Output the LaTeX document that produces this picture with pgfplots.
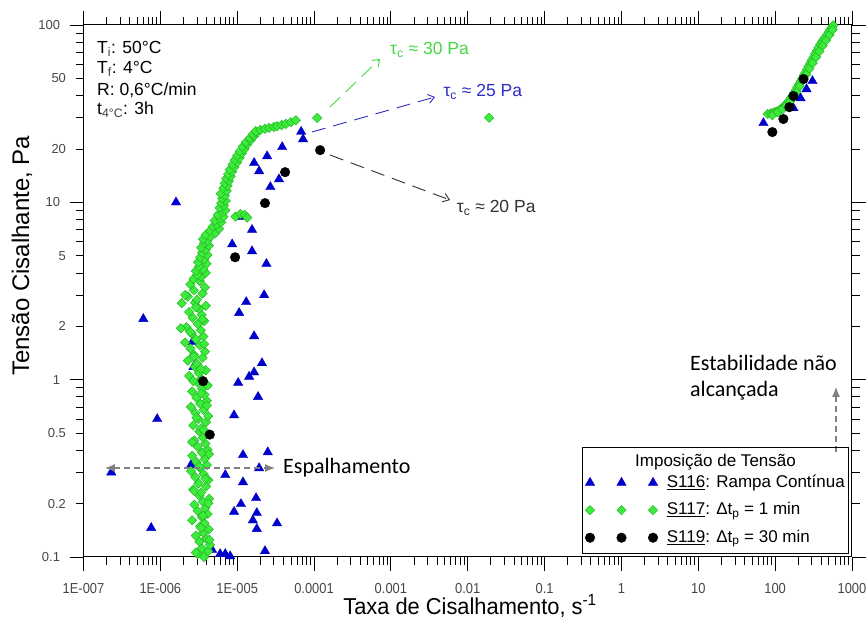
\documentclass[border=0pt]{standalone}
\usepackage{fontspec}
\setmainfont{Liberation Sans}
\newfontfamily\narrowfont{Liberation Sans}[FakeStretch=0.89]
\newfontfamily\labelfont{Liberation Sans}[FakeStretch=0.95]
\newfontfamily\calfont{Carlito}
\usepackage{pgfplots}
\pgfplotsset{compat=1.18}
\usetikzlibrary{arrows.meta}
\definecolor{blueT}{RGB}{0,0,205}
\definecolor{greenF}{RGB}{60,235,60}
\definecolor{greenE}{RGB}{35,185,35}
\definecolor{tickgray}{RGB}{70,70,70}
\definecolor{annGreen}{RGB}{70,215,70}
\definecolor{annBlue}{RGB}{45,45,195}
\definecolor{annBlack}{RGB}{50,50,50}
\definecolor{arrGray}{RGB}{128,128,128}
\pgfplotsset{trip legend/.style={legend image code/.code={\draw[mark repeat=1,##1] plot coordinates {(0pt,0pt) (31.5pt,0pt) (63pt,0pt)};}}}
\begin{document}
\begin{tikzpicture}
\useasboundingbox (-83.5pt,-63pt) rectangle (784.5pt,557pt);
\begin{axis}[
  at={(0pt,0pt)}, anchor=south west,
  scale only axis, width=768.5pt, height=532pt,
  xmode=log, ymode=log,
  xmin=1e-7, xmax=1000, ymin=0.1, ymax=100,
  axis line style={black, line width=1pt},
  tick align=outside,
  major tick length=14pt, minor tick length=8pt,
  every tick/.style={black, line width=0.8pt},
  xtick={1e-7,1e-6,1e-5,1e-4,1e-3,0.01,0.1,1,10,100,1000},
  xticklabels={1E-007,1E-006,1E-005,0.0001,0.001,0.01,0.1,1,10,100,1000},
  ytick={0.1,1,10,100},
  yticklabels={0.1,1,10,100},
  extra y ticks={0.2,0.5,2,5,20,50},
  extra y tick labels={0.2,0.5,2,5,20,50},
  extra y tick style={major tick length=8pt},
  xticklabel style={font=\narrowfont\fontsize{14.5}{14.5}\selectfont, text=tickgray, inner sep=1pt, yshift=-11.5pt},
  yticklabel style={font=\fontsize{13}{13}\selectfont, text=tickgray, xshift=-6pt},
  xlabel={Taxa de Cisalhamento, s\textsuperscript{-1}},
  ylabel={Tensão Cisalhante, Pa},
  xlabel style={font=\labelfont\fontsize{23}{23}\selectfont, inner sep=0pt, at={(axis description cs:0.503,-0.1080)}, anchor=base},
  ylabel style={font=\fontsize{24}{24}\selectfont, at={(axis description cs:-0.080,0.566)}, anchor=center},
  legend style={at={(axis description cs:0.6526,0.1560)}, anchor=north west, draw=none, fill=none,
    font=\fontsize{17}{19}\selectfont, inner sep=0pt, row sep=10.5pt, column sep=8pt,
    nodes={inner sep=1pt, text depth=3pt, text height=12pt}},
  legend cell align=left,
]
\addplot[only marks, mark=triangle*, mark size=5.4pt, color=blueT, mark options={fill=blueT, draw=blueT}, trip legend] coordinates {
(1.6e-6,10.0)(6.0e-7,2.2)(9.1e-7,0.6)(2.3e-7,0.30)(7.6e-7,0.146)(2.6e-6,1.63)(2.7e-6,1.18)(2.5e-6,0.33)
(2.24e-5,3.0)(1.31e-5,2.74)(1.06e-5,2.38)(1.66e-5,1.76)(2.1e-5,1.24)(1.66e-5,1.10)(1.43e-5,1.04)(1.03e-5,0.96)
(1.87e-5,0.80)(9.1e-6,0.63)(1.19e-5,0.376)(2.5e-5,0.39)(1.93e-5,0.317)(7.0e-6,0.29)(1.19e-5,0.264)(1.76e-5,0.215)
(1.12e-5,0.199)(9.1e-6,0.18)(1.8e-5,0.177)(1.6e-5,0.161)(3.3e-5,0.155)(1.8e-5,0.144)(2.3e-5,0.108)(4.7e-6,0.11)
(6.0e-6,0.104)(7.0e-6,0.104)(8.1e-6,0.101)
(6.8e-5,25)(7.2e-5,22.7)(3.85e-5,20.5)(2.45e-5,18.2)(1.66e-5,16.7)(1.93e-5,15.0)(3.5e-5,13.5)(2.7e-5,12.2)
(1.12e-5,8.3)(1.56e-5,7.0)(8.6e-6,5.8)(1.56e-5,5.3)(2.4e-5,4.5)
(70.4,28.0)(173,34.0)(214,38.7)(256,43.5)(306,48.3)
};
\addlegendentry{\underline{S116}: Rampa Contínua}
\addplot[only marks, mark=square*, mark size=3.3pt, color=greenE, mark options={rotate=45, fill=greenF, draw=greenE, line width=0.5pt}, trip legend] coordinates {
(3.7e-6,0.100)(3.06e-6,0.104)(4.18e-6,0.108)(3.46e-6,0.112)(4.42e-6,0.117)(3.22e-6,0.122)(3.94e-6,0.127)(2.9e-6,0.132)(3.62e-6,0.137)(4.26e-6,0.143)(3.3e-6,0.149)
(3.76e-6,0.155)(2.59e-6,0.161)(3.49e-6,0.168)(4.12e-6,0.175)(3.04e-6,0.182)(3.85e-6,0.189)(2.77e-6,0.197)(3.58e-6,0.205)(4.3e-6,0.213)(3.22e-6,0.222)(3.4e-6,0.231)(2.68e-6,0.240)(3.94e-6,0.250)(3.13e-6,0.260)(4.21e-6,0.271)(2.86e-6,0.282)(3.67e-6,0.293)(2.5e-6,0.305)(3.31e-6,0.317)(4.03e-6,0.330)(2.95e-6,0.343)(3.76e-6,0.357)(2.59e-6,0.372)(3.49e-6,0.387)(4.12e-6,0.403)(3.04e-6,0.419)(3.85e-6,0.436)(2.77e-6,0.454)(3.58e-6,0.472)(4.3e-6,0.491)(3.22e-6,0.511)(3.4e-6,0.532)(2.68e-6,0.553)(3.94e-6,0.576)(3.13e-6,0.599)(4.21e-6,0.623)(2.86e-6,0.649)(3.67e-6,0.675)(2.5e-6,0.702)(3.31e-6,0.731)(4.03e-6,0.760)(2.95e-6,0.791)(3.76e-6,0.823)(2.59e-6,0.857)(3.49e-6,0.891)(4.12e-6,0.928)(3.04e-6,0.965)
(3.45e-6,1.00)(2.37e-6,1.05)(3.18e-6,1.09)(3.9e-6,1.13)(2.82e-6,1.18)(3.0e-6,1.23)(2.28e-6,1.28)(3.54e-6,1.33)(2.73e-6,1.38)(3.81e-6,1.44)(2.46e-6,1.50)(3.27e-6,1.56)(2.1e-6,1.62)(2.91e-6,1.69)(3.63e-6,1.75)(2.55e-6,1.82)(3.36e-6,1.90)(2.19e-6,1.98)(3.09e-6,2.06)(3.72e-6,2.14)(2.64e-6,2.23)(3.45e-6,2.32)(2.37e-6,2.41)(3.18e-6,2.51)(3.9e-6,2.61)(2.82e-6,2.72)(3.0e-6,2.83)(2.28e-6,2.94)(3.54e-6,3.06)(2.73e-6,3.19)(3.81e-6,3.32)(2.46e-6,3.45)(3.27e-6,3.59)
(2.9e-6,0.106)(4.34e-6,0.125)(3.38e-6,0.146)(3.58e-6,0.171)(4.21e-6,0.201)(2.77e-6,0.236)(3.85e-6,0.276)(3.22e-6,0.324)(4.3e-6,0.380)(2.59e-6,0.445)(3.67e-6,0.521)(2.95e-6,0.611)(4.03e-6,0.716)(3.4e-6,0.838)(2.68e-6,0.983)(3.36e-6,1.15)(2.73e-6,1.35)(3.72e-6,1.59)(2.46e-6,1.86)(3.54e-6,2.19)(2.91e-6,2.56)(2.1e-6,3.0)(1.9e-6,2.7)(1.85e-6,1.95)
(2.7e-6,3.7)(3.4e-6,3.8)(3.0e-6,3.9)(3.9e-6,4.0)(2.9e-6,4.1)(3.6e-6,4.2)(3.2e-6,4.35)(4.0e-6,4.5)(3.1e-6,4.6)(3.7e-6,4.75)(3.3e-6,4.9)(4.1e-6,5.05)(3.5e-6,5.2)(3.9e-6,5.4)(3.4e-6,5.55)(4.3e-6,5.7)(3.7e-6,5.9)(4.1e-6,6.05)(3.6e-6,6.2)(4.5e-6,6.4)(3.9e-6,6.55)(5.2e-6,6.7)(4.4e-6,6.9)(5.8e-6,7.1)(4.8e-6,7.3)(5.4e-6,7.5)(6.2e-6,7.7)(5.1e-6,7.9)(6.0e-6,8.1)(6.6e-6,8.3)(5.6e-6,8.5)(6.4e-6,8.8)(7.0e-6,9.0)(5.9e-6,9.3)(6.7e-6,9.6)(6.2e-6,9.9)(7.1e-6,10.2)(6.4e-6,10.5)(6.9e-6,10.9)(6.1e-6,11.2)(7.3e-6,11.6)(6.6e-6,12.0)(7.5e-6,12.4)(6.9e-6,12.8)(7.8e-6,13.2)(7.2e-6,13.6)(8.2e-6,14.0)(7.6e-6,14.4)(8.6e-6,14.9)(8.0e-6,15.3)(9.2e-6,15.8)(8.7e-6,16.3)(1.0e-5,16.8)(9.3e-6,17.3)(1.08e-5,17.8)(1.0e-5,18.3)(1.15e-5,18.9)(1.08e-5,19.4)(1.25e-5,20.0)(1.18e-5,20.6)(1.35e-5,21.2)(1.3e-5,21.8)(1.5e-5,22.4)(1.45e-5,23.0)(1.65e-5,23.6)(1.6e-5,24.2)(1.8e-5,24.7)(1.75e-5,25.2)(2.0e-5,25.6)(2.3e-5,26.0)(2.6e-5,26.3)(3.0e-5,26.6)(3.3e-5,26.9)(3.8e-5,27.3)(4.3e-5,27.7)(5.0e-5,28.3)(5.8e-5,29.0)(1.1e-4,29.9)(0.019,30.0)
(9.5e-6,8.3)(1.1e-5,8.6)(1.25e-5,8.5)(1.35e-5,8.2)
(80,31.5)(88,31.8)(96,32.2)(104,32.5)(112,33)(120,33.7)(128,34.5)(136,35.5)(144,36.5)(152,37.5)(160,38.8)(168,40)(176,41.3)(185,42.8)(194,44.5)(204,46.2)(214,48)(225,50)(236,52)(248,54)(260,56.2)(273,58.5)(287,61)(301,63.5)(316,66)(332,68.8)(349,71.5)(367,74.5)(386,77.5)(406,80.5)(427,83)(449,85.5)(472,88)(496,91)(521,94)(547,97)(570,99.5)
(92,31)(108,32.2)(124,33.4)(140,35)(156,37)(172,39.2)(190,42)(209,45.2)(230,48.8)(254,52.5)(280,56.8)(308,61)(340,66)(376,71)(416,76.5)(460,82)(510,88)(560,94)
};
\addlegendentry{\underline{S117}: Δt\textsubscript{p} = 1 min}
\addplot[only marks, mark=*, mark size=4.8pt, color=black, mark options={fill=black, draw=black}, trip legend] coordinates {
(1.2e-4,19.7)(4.2e-5,14.8)(2.3e-5,9.9)(9.4e-6,4.9)(3.6e-6,0.98)(4.4e-6,0.49)
(234,49.6)(173,39.8)(153,34.4)(128,29.5)(92,24.9)
};
\addlegendentry{\underline{S119}: Δt\textsubscript{p} = 30 min}
\end{axis}
% top-left conditions
\begin{scope}[every node/.style={anchor=base west, inner sep=0pt, font=\fontsize{17.5}{20}\selectfont}]
\node at (13.5pt,503pt) {T\textsubscript{\color{darkgray}i}: 50°C};
\node at (13.5pt,483pt) {T\textsubscript{\color{darkgray}f}: 4°C};
\node at (13.5pt,461pt) {R: 0,6°C/min};
\node at (13.5pt,442pt) {t\textsubscript{\color{darkgray}4°C}: 3h};
\end{scope}
% tau_c annotations
\draw[annGreen, line width=0.9pt, dash pattern=on 14pt off 8pt, -{Straight Barb[length=6pt,width=9pt]}] (246.5pt,450pt) -- (296.5pt,498pt);
\node[anchor=base west, inner sep=0pt, text=annGreen, font=\fontsize{17.5}{19}\selectfont] at (306.5pt,502pt) {τ\textsubscript{c} ≈ 30 Pa};
\draw[annBlue, line width=0.9pt, dash pattern=on 14pt off 8pt, -{Straight Barb[length=6pt,width=9pt]}] (228.5pt,425pt) -- (351.5pt,460pt);
\node[anchor=base west, inner sep=0pt, text=annBlue, font=\fontsize{17.5}{19}\selectfont] at (359.8pt,460.3pt) {τ\textsubscript{c} ≈ 25 Pa};
\draw[annBlack, line width=0.9pt, dash pattern=on 14pt off 8pt, -{Straight Barb[length=6pt,width=9pt]}] (246.5pt,402pt) -- (366.5pt,357pt);
\node[anchor=base west, inner sep=0pt, text=annBlack, font=\fontsize{17.5}{19}\selectfont] at (373.2pt,344pt) {τ\textsubscript{c} ≈ 20 Pa};
% Espalhamento
\draw[arrGray, line width=1.2pt, dash pattern=on 6pt off 4pt, {Latex[length=10pt,width=8pt]}-{Latex[length=10pt,width=8pt]}] (21.5pt,89pt) -- (191.5pt,89pt);
\node[anchor=west, inner sep=0pt, font=\calfont\fontsize{22}{24}\selectfont] at (199.5pt,89pt) {Espalhamento};
% Estabilidade
\draw[arrGray, line width=1.2pt, dash pattern=on 6pt off 4pt, -{Latex[length=10pt,width=8pt]}] (752.5pt,105pt) -- (752.5pt,170pt);
\node[anchor=base west, inner sep=0pt, font=\calfont\fontsize{22}{24}\selectfont] at (606.5pt,186pt) {Estabilidade não};
\node[anchor=base west, inner sep=0pt, font=\calfont\fontsize{22}{24}\selectfont] at (606.5pt,160pt) {alcançada};
% legend box and title
\draw[black, line width=0.8pt] (499.2pt,3.7pt) rectangle (764.8pt,109.7pt);
\node[anchor=base, inner sep=0pt, font=\fontsize{17}{20}\selectfont] at (632pt,90pt) {Imposição de Tensão};
\end{tikzpicture}
\end{document}
